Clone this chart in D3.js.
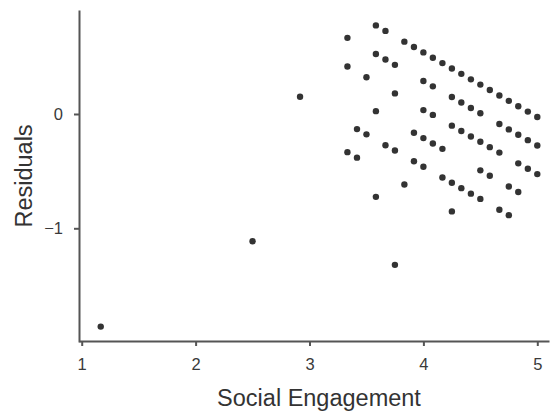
<!DOCTYPE html>
<html>
<head>
<meta charset="utf-8">
<script src="https://cdn.jsdelivr.net/npm/d3@7"></script>
<style>
  html, body { margin: 0; padding: 0; background: #fff; }
  svg { display: block; font-family: Helvetica, "Liberation Sans", Arial, sans-serif; }
  .axis path, .axis line { stroke: #555; stroke-width: 2; }
  .axis text { fill: #3a3a3a; font-size: 16.5px; }
  .title { fill: #333; font-size: 23.5px; }
  .point { fill: #333; }
</style>
</head>
<body>
<div id="chart"></div>
<script>
// ------------------------------------------
//  Data
// ------------------------------------------
const engagement = [
  3.583, 3.667, 3.833, 3.917, 4, 4.083, 4.167, 4.25, 4.333, 4.417, 4.5, 4.583, 4.667, 4.75, 4.833, 4.917, 5,
  3.333, 3.583, 3.667, 3.75, 4, 4.083, 4.25, 4.333, 4.417, 4.5, 4.667, 4.75, 4.833, 4.917, 5,
  3.333, 3.5, 3.75, 4, 4.083, 4.25, 4.333, 4.417, 4.5, 4.583, 4.667, 4.833, 4.917, 5,
  3.583, 3.917, 4, 4.083, 4.167, 4.5, 4.583, 4.75, 4.833,
  2.917, 3.417, 3.5, 3.667, 3.75, 3.917, 4, 4.167, 4.25, 4.333, 4.417, 4.5, 4.667, 4.75,
  3.333, 3.417, 3.833, 4.25,
  3.583, 3.75, 2.5, 1.167
]
const residuals = [
  0.775, 0.727, 0.633, 0.586, 0.539, 0.492, 0.445, 0.398, 0.351, 0.303, 0.257, 0.210, 0.162, 0.115, 0.068, 0.021, -0.026,
  0.666, 0.525, 0.477, 0.430, 0.289, 0.242, 0.148, 0.101, 0.053, 0.007, -0.088, -0.135, -0.182, -0.229, -0.276,
  0.416, 0.322, 0.180, 0.034, -0.008, -0.102, -0.149, -0.197, -0.243, -0.290, -0.338, -0.432, -0.479, -0.526,
  0.025, -0.164, -0.211, -0.258, -0.305, -0.493, -0.540, -0.635, -0.682,
  0.151, -0.132, -0.178, -0.273, -0.320, -0.414, -0.461, -0.555, -0.602, -0.649, -0.697, -0.743, -0.838, -0.885,
  -0.334, -0.382, -0.617, -0.852,
  -0.725, -1.320, -1.113, -1.860
]
const xTicks = [1, 2, 3, 4, 5]
const yTicks = [-1, 0]
const xTitle = "Social Engagement"
const yTitle = "Residuals"

// ------------------------------------------
//  Chart
// ------------------------------------------
function drawChart() {
    const width = 551, height = 412;
    const svg = d3.select("#chart").append("svg")
        .attr("width", width).attr("height", height);

    const x = d3.scaleLinear().domain([0.985, 5.094]).range([80, 548]);
    const y = d3.scaleLinear().domain([-1.986, 0.901]).range([341, 11]);

    svg.append("g").attr("class", "axis")
        .attr("transform", "translate(0,341)")
        .call(d3.axisBottom(x).tickValues(xTicks).tickSize(5).tickPadding(12).tickSizeOuter(0).tickFormat(d3.format("d")))
        .attr("font-family", null);

    svg.append("g").attr("class", "axis")
        .attr("transform", "translate(79,0)")
        .call(d3.axisLeft(y).tickValues(yTicks).tickSize(5).tickPadding(11).tickSizeOuter(0).tickFormat(d3.format("d")))
        .attr("font-family", null);

    svg.selectAll(".axis .domain").attr("stroke-linecap", "square");

    svg.selectAll(".point")
        .data(engagement.map((e, i) => [e, residuals[i]]))
        .enter().append("circle")
        .attr("class", "point")
        .attr("cx", d => x(d[0]))
        .attr("cy", d => y(d[1]))
        .attr("r", 3.2);

    svg.append("text").attr("class", "title")
        .attr("x", 319).attr("y", 406)
        .attr("text-anchor", "middle")
        .text(xTitle);

    svg.append("text").attr("class", "title")
        .attr("transform", "translate(32,176) rotate(-90)")
        .attr("text-anchor", "middle")
        .text(yTitle);
}

drawChart();
</script>
</body>
</html>
